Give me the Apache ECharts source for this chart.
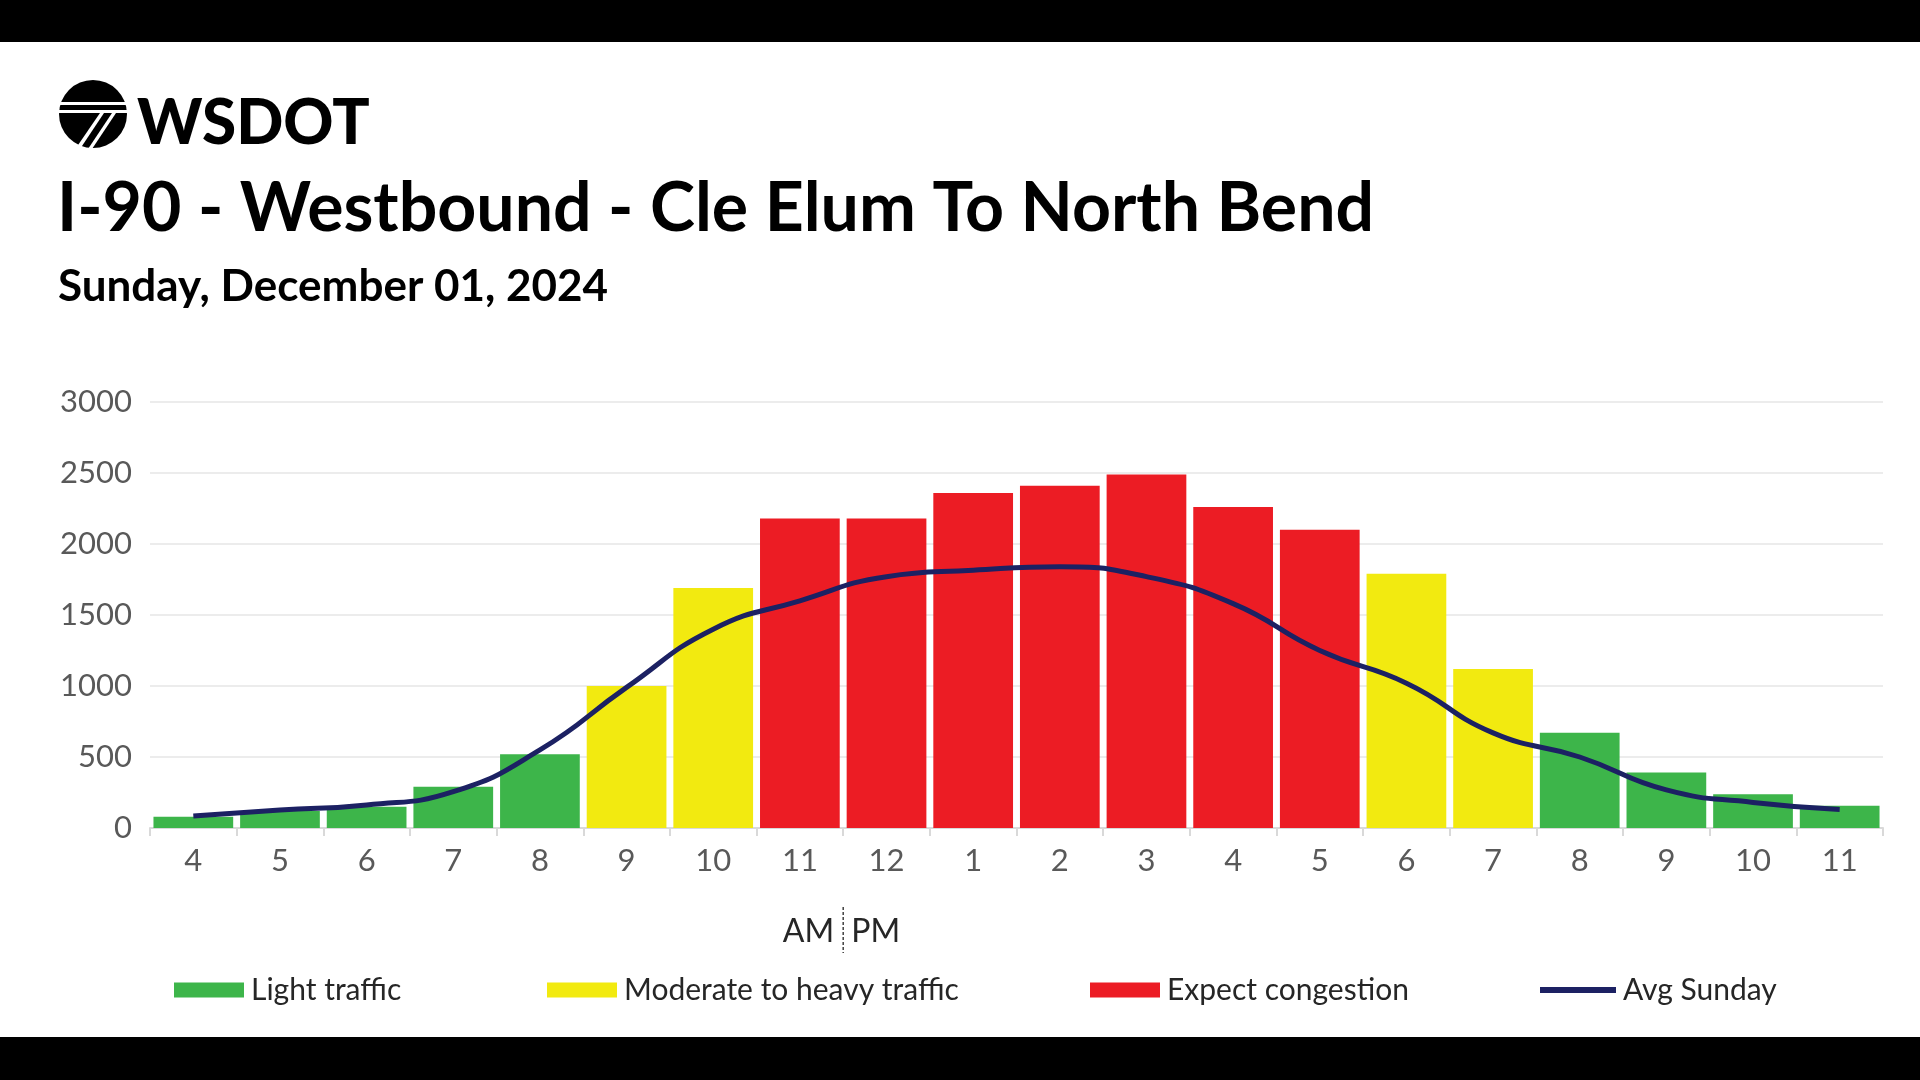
<!DOCTYPE html>
<html>
<head>
<meta charset="utf-8">
<script src="https://cdn.jsdelivr.net/npm/echarts@6/dist/echarts.min.js"></script>
<style>
html,body{margin:0;padding:0;background:#fff;}
#chart{width:1920px;height:1080px;}
</style>
</head>
<body>
<div id="chart"></div>
<script>
// ---- Data ----
const hours = ['4','5','6','7','8','9','10','11','12','1','2','3','4','5','6','7','8','9','10','11'];
const volumes = [80, 120, 150, 290, 520, 1000, 1690, 2180, 2180, 2360, 2410, 2490, 2260, 2100, 1790, 1120, 670, 390, 237, 157];
// traffic level per hour: L = light, M = moderate to heavy, H = expect congestion
const levels = ['L','L','L','L','L','M','M','H','H','H','H','H','H','H','M','M','L','L','L','L'];
const avgSunday = [85, 127, 162, 256, 550, 990, 1400, 1600, 1770, 1815, 1840, 1770, 1580, 1250, 1020, 670, 500, 268, 180, 130];
const yTicks = [0, 500, 1000, 1500, 2000, 2500, 3000];

const titleText = 'I-90 - Westbound - Cle Elum To North Bend';
const subtitleText = 'Sunday, December 01, 2024';

const levelSeries = [
  {key:'L', name:'Light traffic', color:'#3db54a'},
  {key:'M', name:'Moderate to heavy traffic', color:'#f2ea10'},
  {key:'H', name:'Expect congestion', color:'#ec1c24'}
];

const FONT = 'Lato, "Open Sans", sans-serif';
const chart = echarts.init(document.getElementById('chart'));

const barSeries = levelSeries.map(ls => ({
  name: ls.name,
  type: 'bar',
  stack: 'vol',
  barCategoryGap: '8%',
  itemStyle: {color: ls.color},
  data: volumes.map((v, i) => levels[i] === ls.key ? v : '-')
}));

const legendPos = [174, 547, 1090, 1540];
const legendNames = levelSeries.map(l => l.name).concat(['Avg Sunday']);

const option = {
  backgroundColor: '#ffffff',
  animation: false,
  textStyle: {fontFamily: FONT},
  grid: {left: 150, right: 37, top: 402, bottom: 252, containLabel: false},
  legend: legendNames.map((n, i) => ({
    data: [n],
    left: legendPos[i],
    top: 975,
    padding: 0,
    itemWidth: i === 3 ? 76 : 70,
    itemHeight: i === 3 ? 6 : 15,
    icon: 'rect',
    itemGap: 7,
    textStyle: {fontSize: 30, color: '#262626', fontFamily: FONT, padding: [0,0,0,2]}
  })),
  xAxis: {
    type: 'category',
    data: hours,
    boundaryGap: true,
    axisLine: {lineStyle: {color: '#d9d9d9', width: 2}},
    axisTick: {show: true, length: 8, lineStyle: {color: '#d9d9d9', width: 2}},
    axisLabel: {fontSize: 31, color: '#595959', margin: 17, fontFamily: FONT}
  },
  yAxis: {
    type: 'value',
    min: yTicks[0],
    max: yTicks[yTicks.length - 1],
    interval: yTicks[1] - yTicks[0],
    axisLine: {show: false},
    axisTick: {show: false},
    splitLine: {lineStyle: {color: '#ececec', width: 2}},
    axisLabel: {fontSize: 31, color: '#595959', margin: 18, fontFamily: FONT, formatter: v => String(v)}
  },
  series: barSeries.concat([{
    name: 'Avg Sunday',
    type: 'line',
    smooth: true,
    showSymbol: false,
    symbol: 'none',
    z: 5,
    lineStyle: {color: '#1c2163', width: 5},
    itemStyle: {color: '#1c2163'},
    data: avgSunday
  }])
};
chart.setOption(option);

// AM | PM marker between 11 and 12
const p11 = chart.convertToPixel({xAxisIndex:0}, 7);
const p12 = chart.convertToPixel({xAxisIndex:0}, 8);
const sepX = (p11 + p12) / 2;
chart.setOption({graphic: [
  {type:'rect', shape:{x:0,y:0,width:1920,height:42}, style:{fill:'#000'}},
  {type:'rect', shape:{x:0,y:1037,width:1920,height:43}, style:{fill:'#000'}},
  // WSDOT logo mark
  {type:'circle', shape:{cx:93, cy:114, r:34}, style:{fill:'#000'}},
  {type:'rect', shape:{x:59, y:102, width:68, height:3}, style:{fill:'#fff'}},
  {type:'rect', shape:{x:59, y:110, width:68, height:3}, style:{fill:'#fff'}},
  {type:'polygon', shape:{points:[[100,113],[104,113],[80,149],[76,148]]}, style:{fill:'#fff'}},
  {type:'polygon', shape:{points:[[112,113],[116,113],[92,149],[88,149]]}, style:{fill:'#fff'}},
  {type:'text', left: 137, top: 93, style:{text:'WSDOT', font:'900 62px Lato, sans-serif', fill:'#000'}},
  {type:'text', left: 57, top: 175, style:{text:titleText, font:'bold 68px Lato, sans-serif', fill:'#000'}},
  {type:'text', left: 58, top: 265, style:{text:subtitleText, font:'bold 44px Lato, sans-serif', fill:'#000'}},
  {type:'text', x: sepX - 9, y: 932, style:{text:'AM', font:'32px Lato, sans-serif', fill:'#262626', textAlign:'right', textVerticalAlign:'middle'}},
  {type:'text', x: sepX + 8, y: 932, style:{text:'PM', font:'32px Lato, sans-serif', fill:'#262626', textAlign:'left', textVerticalAlign:'middle'}},
  {type:'line', shape:{x1: sepX, y1: 907, x2: sepX, y2: 953}, style:{stroke:'#404040', lineWidth:1.5, lineDash:[3,2]}}
]});
</script>
</body>
</html>
